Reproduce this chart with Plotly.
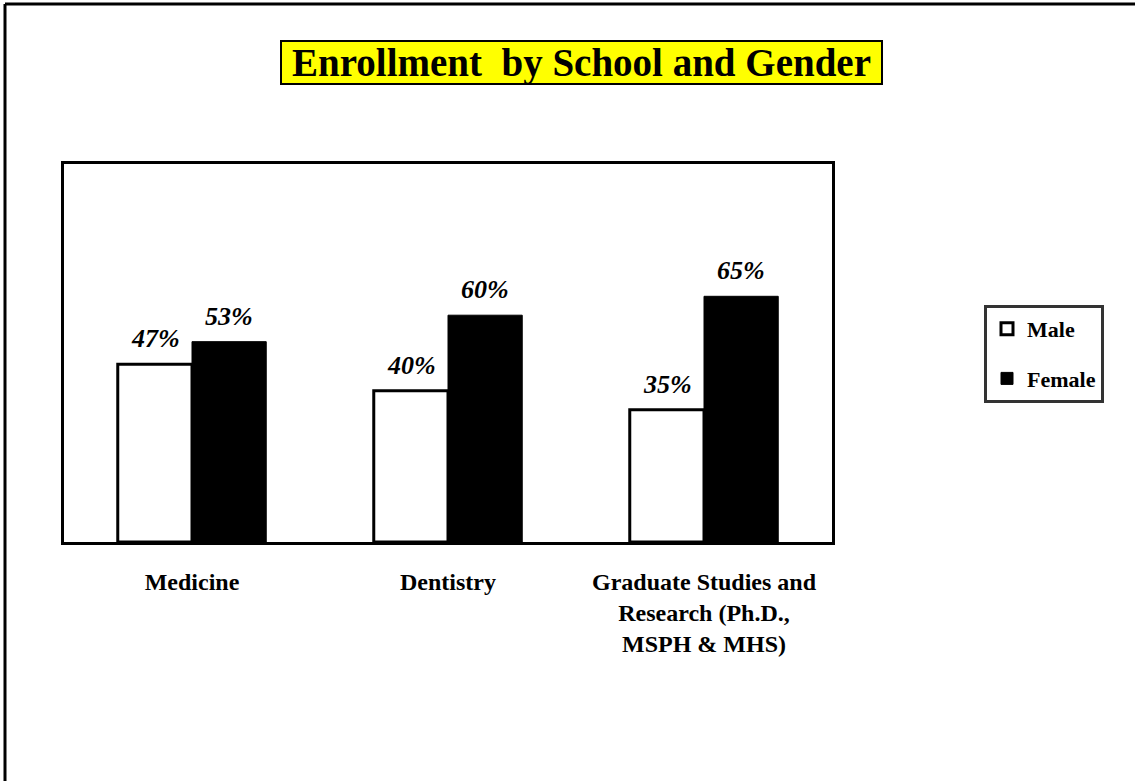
import plotly.graph_objects as go

schools = ["Medicine", "Dentistry", "Graduate Studies and<br>Research (Ph.D.,<br>MSPH & MHS)"]
male = [47, 40, 35]
female = [53, 60, 65]
series_names = ["Male", "Female"]

FONT = "Liberation Serif, Times New Roman, serif"

# plot area in pixels (for placing layout decorations)
W_FIG, H_FIG = 1135, 781
L, R, T, B = 64, 832, 164, 542


def px(x):
    return (x - L) / (R - L)


def py(y):
    return (B - y) / (B - T)


fig = go.Figure()

fig.add_trace(go.Bar(
    x=schools, y=male, name=series_names[0],
    marker=dict(color="white", line=dict(color="black", width=3)),
    legendgroup="m",
))
fig.add_trace(go.Bar(
    x=schools, y=female, name=series_names[1],
    marker=dict(color="black", line=dict(color="black", width=1)),
    legendgroup="f",
))

# value labels above the bars
for vals, shift in [(male, -37), (female, 37)]:
    for cat, v in zip(schools, vals):
        fig.add_annotation(
            x=cat, y=v, xref="x", yref="y", text=f"{v}%",
            showarrow=False, xanchor="center", yanchor="bottom", xshift=shift, yshift=9,
            font=dict(family=FONT, size=26, color="black", weight="bold", style="italic"),
        )

# title in a yellow box
fig.add_shape(type="rect", xref="paper", yref="paper",
              x0=px(281), x1=px(882), y0=py(84), y1=py(41),
              fillcolor="#FFFF00", line=dict(color="black", width=2), layer="below")
fig.add_annotation(
    xref="paper", yref="paper", x=px(581.5), y=py(63), showarrow=False,
    xanchor="center", yanchor="middle",
    text="Enrollment\u00a0 by School and Gender",
    font=dict(family=FONT, size=39, color="black", weight="bold"),
)

# outer frame (left and top edges)
fig.add_shape(type="line", xref="paper", yref="paper",
              x0=px(5), x1=px(5), y0=py(4), y1=py(781), line=dict(color="black", width=3))
fig.add_shape(type="line", xref="paper", yref="paper",
              x0=px(5), x1=px(1135), y0=py(4), y1=py(4), line=dict(color="black", width=3))

fig.update_layout(
    width=W_FIG, height=H_FIG,
    margin=dict(l=L, r=W_FIG - R, t=T, b=H_FIG - B),
    paper_bgcolor="white", plot_bgcolor="white",
    barmode="group", bargap=0.42, bargroupgap=0,
    font=dict(family=FONT, color="black"),
    showlegend=True,
    legend=dict(
        x=px(984), y=py(305), xanchor="left", yanchor="top",
        bordercolor="#333333", borderwidth=3, bgcolor="white",
        font=dict(family=FONT, size=22, color="black", weight="bold"),
        traceorder="grouped", tracegroupgap=18, entrywidth=85,
    ),
    xaxis=dict(
        showline=True, linecolor="black", linewidth=3, mirror=True,
        showgrid=False, ticks="", ticklabelstandoff=16,
        tickfont=dict(family=FONT, size=24, color="black", weight="bold"),
    ),
    yaxis=dict(
        range=[0, 100], showline=True, linecolor="black", linewidth=3, mirror=True,
        showgrid=False, zeroline=False, showticklabels=False, ticks="",
    ),
)

fig.write_html("out.html", config={"displayModeBar": False},
               post_script="document.body.style.margin='0px';")
